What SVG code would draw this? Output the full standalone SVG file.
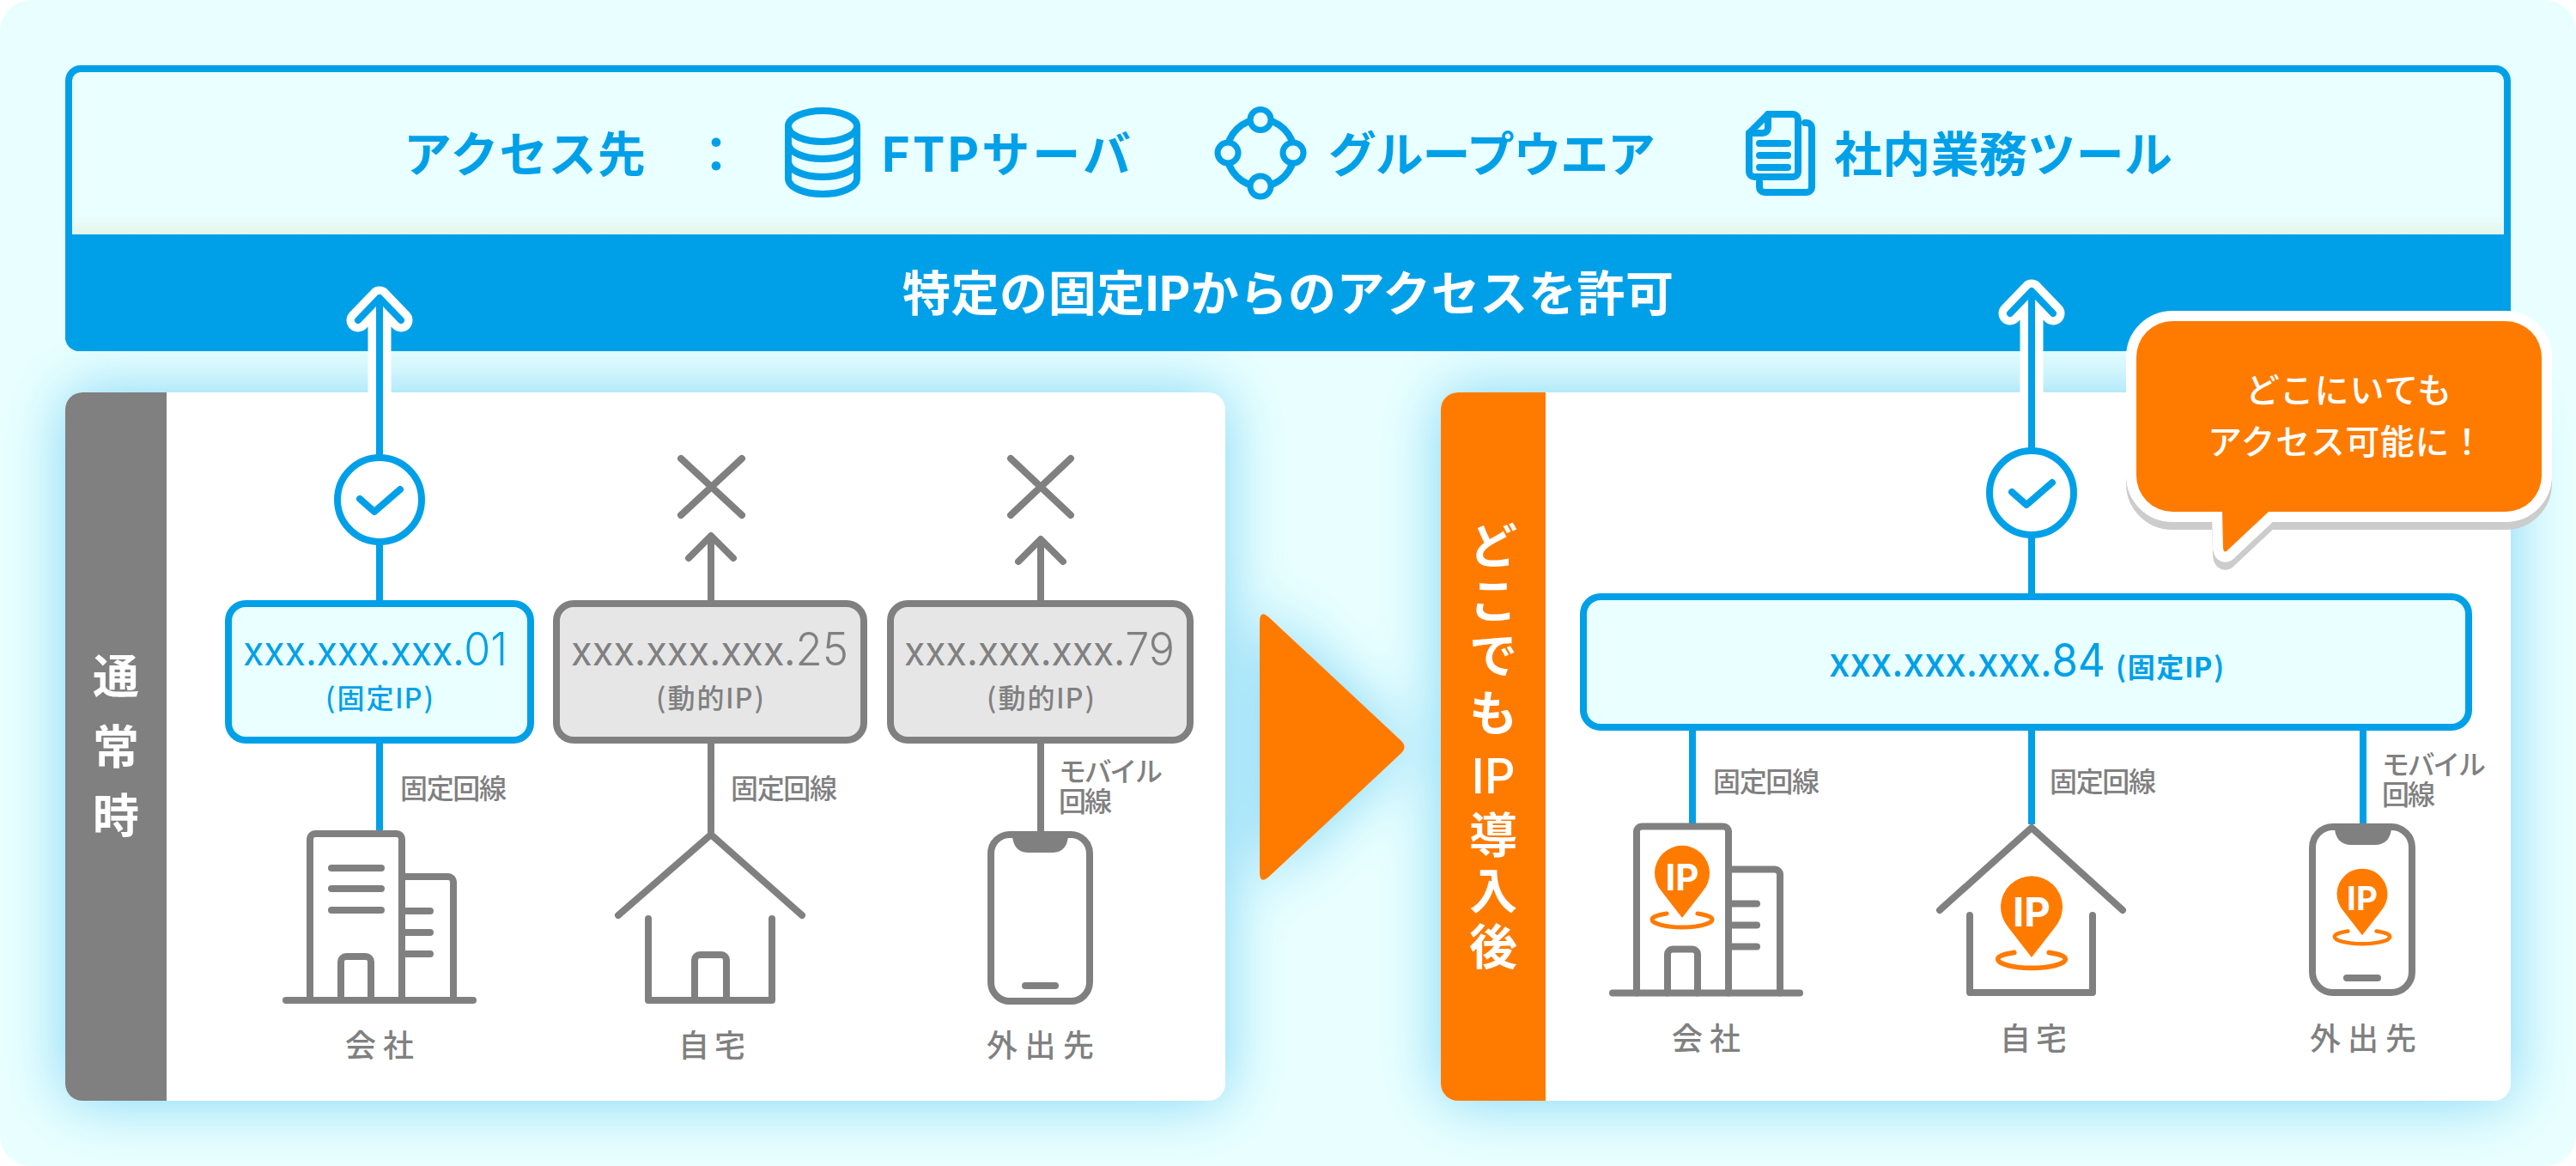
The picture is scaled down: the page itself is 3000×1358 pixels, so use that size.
<svg xmlns="http://www.w3.org/2000/svg" xmlns:xlink="http://www.w3.org/1999/xlink" width="3000" height="1358" viewBox="0 0 3000 1358">
<style>
text{font-family:"Noto Sans CJK JP","Noto Sans",sans-serif;}
.la{font-family:Inter,"Noto Sans",sans-serif;}
.b{fill:#00a0e9}.w{fill:#fff}.g{fill:#808080}
.top{font-size:56px;font-weight:700;fill:#00a0e9}
.ip{font-family:Inter,"Noto Sans",sans-serif;font-size:47px;font-weight:400}
.dg{font-size:53px;font-weight:300}
.sub{font-size:32px;font-weight:500}
.lab{font-size:32px;font-weight:500;fill:#808080}
.nm{font-size:36px;font-weight:500;fill:#808080}
.side{font-size:54px;fill:#fff;font-weight:700;text-anchor:middle}
.lg{fill:none;stroke:#808080;stroke-width:8;stroke-linecap:round;stroke-linejoin:round}
.lb{fill:none;stroke:#00a0e9;stroke-width:8;stroke-linecap:round;stroke-linejoin:round}
.cn{fill:none;stroke-width:8}
.halo{fill:none;stroke:#fff;stroke-width:27;stroke-linejoin:round;stroke-linecap:round}
</style>
<defs>
<filter id="glow" x="-20%" y="-30%" width="140%" height="160%"><feGaussianBlur stdDeviation="36"/></filter>
<linearGradient id="sh" x1="0" y1="0" x2="0" y2="1"><stop offset="0" stop-color="#e4f6ec" stop-opacity="0"/><stop offset="1" stop-color="#e2f6ea"/></linearGradient>
<g id="bld" class="lg">
<path d="M333 1165H551"/>
<path d="M361 1165V977a6 6 0 0 1 6-6H462a6 6 0 0 1 6 6V1165"/>
<path d="M468 1021H522a6 6 0 0 1 6 6V1165"/>
<path d="M397 1165V1120a6 6 0 0 1 6-6H426a6 6 0 0 1 6 6V1165"/>
<path d="M472 1061H501M472 1086H501M472 1111H501"/>
</g>
<g id="pin">
<path d="M0 48L-24 17A32 32 0 1 1 24 17Z" fill="#ff7b00"/>
<path d="M-18 43C-30 45-35 47-35 50C-35 55-18 59 0 59C18 59 35 55 35 50C35 47 30 45 18 43" fill="none" stroke="#ff7b00" stroke-width="5" stroke-linecap="round"/>
<text class="la" x="0" y="16" text-anchor="middle" font-size="42" font-weight="700" fill="#fff">IP</text>
</g>
</defs>

<rect width="3000" height="1358" fill="#fff"/>
<rect id="background" width="3000" height="1358" rx="36" fill="#e9ffff"/>

<g id="glows" filter="url(#glow)" fill="#00a0e9" opacity="0.45">
<rect x="76" y="457" width="1351" height="825" rx="20"/>
<rect x="1678" y="457" width="1246" height="825" rx="20"/>
<path d="M1467 711L1636 870L1467 1028Z"/>
</g>

<g id="target-box">
<rect x="80" y="80" width="2840" height="325" rx="14" fill="#eaffff" stroke="#00a0e9" stroke-width="8"/>
<rect x="84" y="250" width="2832" height="23" fill="url(#sh)"/>
<path d="M76 273H2924V393a16 16 0 0 1-16 16H92a16 16 0 0 1-16-16Z" class="b"/>
<text class="top" x="470" y="200" textLength="282">アクセス先</text>
<text class="top" x="806" y="200">：</text>
<text x="1500" y="362" text-anchor="middle" font-size="56" font-weight="700" fill="#fff" textLength="898">特定の固定<tspan class="la">IP</tspan>からのアクセスを許可</text>
</g>
<g id="ftp">
<path d="M918 147V208C918 218 936 226 958 226S998 218 998 208V147" class="lb"/>
<ellipse cx="958" cy="147" rx="40" ry="18" class="lb"/>
<path d="M918 167C918 177 936 185 958 185S998 177 998 167M918 188C918 198 936 206 958 206S998 198 998 188" class="lb"/>
<text class="top" x="1027" y="200" textLength="290"><tspan class="la">FTP</tspan>サーバ</text>
</g>
<g id="groupware">
<circle cx="1468" cy="178" r="39" class="lb" stroke-width="7"/>
<g fill="#eaffff" stroke="#00a0e9" stroke-width="7">
<circle cx="1468" cy="139.500" r="12"/><circle cx="1468" cy="217" r="12"/><circle cx="1430" cy="178" r="12"/><circle cx="1506" cy="178" r="12"/>
</g>
<text class="top" x="1547" y="200" textLength="381">グループウエア</text>
</g>
<g id="docs">
<path d="M2102 143H2104a6 6 0 0 1 6 6V218a6 6 0 0 1-6 6H2055a6 6 0 0 1-6-6V212" class="lb" stroke-width="7"/>
<path d="M2037 155L2059 133H2088a6 6 0 0 1 6 6V200a6 6 0 0 1-6 6H2043a6 6 0 0 1-6-6Z" class="lb" stroke-width="7"/>
<path d="M2037 155H2053a6 6 0 0 0 6-6V133" class="lb" stroke-width="7"/>
<path d="M2049 167H2082M2049 181H2082M2049 195H2082" class="lb"/>
<text class="top" x="2136" y="200" textLength="394">社内業務ツール</text>
</g>

<g id="panel-normal">
<rect x="76" y="457" width="1351" height="825" rx="20" fill="#fff"/>
<path d="M194 457V1282H96a20 20 0 0 1-20-20V477a20 20 0 0 1 20-20Z" class="g"/>
<text class="side"><tspan x="135" y="808">通</tspan><tspan x="135" y="890">常</tspan><tspan x="135" y="970">時</tspan></text>
</g>
<g id="panel-after">
<rect x="1678" y="457" width="1246" height="825" rx="20" fill="#fff"/>
<path d="M1800 457V1282H1698a20 20 0 0 1-20-20V477a20 20 0 0 1 20-20Z" fill="#ff7b00"/>
<text class="side" style="font-size:56px"><tspan x="1739" y="656">ど</tspan><tspan x="1739" y="720">こ</tspan><tspan x="1739" y="784">で</tspan><tspan x="1739" y="851">も</tspan><tspan class="la" x="1739" y="924" style="font-weight:500">IP</tspan><tspan x="1739" y="993">導</tspan><tspan x="1739" y="1058">入</tspan><tspan x="1739" y="1123">後</tspan></text>
</g>
<path id="next-arrow" d="M1480 721L1631 862Q1640 870 1631 878L1480 1019Q1467 1032 1467 1016V724Q1467 708 1480 721Z" fill="#ff7b00"/>

<g id="connectors">
<path class="halo" d="M442 457V360M417 373L442 347L467 373"/>
<path class="halo" d="M2366 457V352M2341 365L2366 339L2391 365"/>
<path class="cn" stroke="#00a0e9" d="M442 347V700M442 866V968"/>
<path class="lb" d="M417 373L442 347L467 373"/>
<path class="cn" stroke="#00a0e9" d="M2366 339V692M1971 851V960M2366 851V960M2752 851V960"/>
<path class="lb" d="M2341 365L2366 339L2391 365"/>
<path class="lg" d="M828 700V626M802 650L828 624L854 650M828 866V968"/>
<path class="lg" d="M1212 700V630M1186 654L1212 628L1238 654M1212 866V968"/>
<path class="lg" d="M793 534L864 600M864 534L793 600"/>
<path class="lg" d="M1177 534L1247 600M1247 534L1177 600"/>
</g>

<g id="check-left"><circle cx="442" cy="582" r="49" fill="#fff" stroke="#00a0e9" stroke-width="8"/><path class="lb" d="M419 581L436 596L466 570"/></g>
<g id="check-right"><circle cx="2366" cy="574" r="49" fill="#fff" stroke="#00a0e9" stroke-width="8"/><path class="lb" d="M2343 573L2360 588L2390 562"/></g>

<g id="ip-01">
<rect x="266" y="703" width="352" height="159" rx="20" fill="#eaffff" stroke="#00a0e9" stroke-width="8"/>
<text class="ip b" x="283" y="775" textLength="308" lengthAdjust="spacingAndGlyphs">xxx.xxx.xxx.<tspan class="dg">01</tspan></text>
<text class="sub b" x="379" y="825" textLength="126">(固定<tspan class="la">IP</tspan>)</text>
</g>
<g id="ip-25">
<rect x="648" y="703" width="358" height="159" rx="20" fill="#e6e6e6" stroke="#808080" stroke-width="8"/>
<text class="ip g" x="665" y="775" textLength="323" lengthAdjust="spacingAndGlyphs">xxx.xxx.xxx.<tspan class="dg">25</tspan></text>
<text class="sub g" x="764" y="825" textLength="126">(動的<tspan class="la">IP</tspan>)</text>
</g>
<g id="ip-79">
<rect x="1037" y="703" width="349" height="159" rx="20" fill="#e6e6e6" stroke="#808080" stroke-width="8"/>
<text class="ip g" x="1053" y="775" textLength="315" lengthAdjust="spacingAndGlyphs">xxx.xxx.xxx.<tspan class="dg">79</tspan></text>
<text class="sub g" x="1149" y="825" textLength="126">(動的<tspan class="la">IP</tspan>)</text>
</g>
<g id="ip-84">
<rect x="1844" y="695" width="1031" height="152" rx="20" fill="#eaffff" stroke="#00a0e9" stroke-width="8"/>
<text class="ip b" x="2130" y="788" textLength="322" lengthAdjust="spacingAndGlyphs" style="font-weight:500">xxx.xxx.xxx.<tspan class="dg" style="font-weight:400">84</tspan></text>
<text class="sub b" x="2464" y="789" textLength="126" style="font-weight:700">(固定<tspan class="la">IP</tspan>)</text>
</g>

<g id="office-left">
<path class="lg" d="M386 1011H444M386 1035H444M386 1060H444"/>
<use xlink:href="#bld" href="#bld"/>
<text class="lab" x="466" y="930" textLength="124">固定回線</text>
<text class="nm" x="402" y="1231" textLength="80">会社</text>
</g>
<g id="home-left">
<path class="lg" d="M720 1066L828 972L934 1066M755 1070V1165H899V1070M809 1165V1118a6 6 0 0 1 6-6H840a6 6 0 0 1 6 6V1165"/>
<text class="lab" x="851" y="930" textLength="124">固定回線</text>
<text class="nm" x="790" y="1231" textLength="78">自宅</text>
</g>
<g id="phone-left">
<rect x="1154" y="972" width="115" height="194" rx="22" fill="none" stroke="#808080" stroke-width="8"/>
<path d="M1179 972H1244C1244 984 1238 993 1226 993H1197C1185 993 1179 984 1179 972Z" class="g"/>
<path class="lg" d="M1194 1148H1229"/>
<text class="lab" x="1233" y="910" textLength="121">モバイル</text>
<text class="lab" x="1233" y="945" textLength="62">回線</text>
<text class="nm" x="1149" y="1231" textLength="125">外出先</text>
</g>

<g id="office-right">
<use xlink:href="#bld" href="#bld" transform="translate(1545 -8.500)"/>
<use xlink:href="#pin" href="#pin" transform="translate(1959 1021)"/>
<text class="lab" x="1995" y="922" textLength="124">固定回線</text>
<text class="nm" x="1947" y="1223" textLength="80">会社</text>
</g>
<g id="home-right">
<path class="lg" d="M2259 1060L2366 964L2472 1060" style="stroke-linejoin:round"/>
<path class="lg" d="M2294 1066V1156H2437V1066"/>
<use xlink:href="#pin" href="#pin" transform="translate(2366 1061) scale(1.125)"/>
<text class="lab" x="2387" y="922" textLength="124">固定回線</text>
<text class="nm" x="2329" y="1223" textLength="78">自宅</text>
</g>
<g id="phone-right">
<rect x="2693" y="963" width="116" height="193" rx="24" fill="none" stroke="#808080" stroke-width="8"/>
<path d="M2719 963H2785C2785 976 2778 984 2766 984H2738C2726 984 2719 976 2719 963Z" class="g"/>
<path class="lg" d="M2733 1139H2769"/>
<use xlink:href="#pin" href="#pin" transform="translate(2751 1045) scale(0.92)"/>
<text class="lab" x="2774" y="902" textLength="121">モバイル</text>
<text class="lab" x="2774" y="937" textLength="62">回線</text>
<text class="nm" x="2690" y="1223" textLength="124">外出先</text>
</g>

<g id="callout">
<path d="M2530 374H2918a42 42 0 0 1 42 42V554a42 42 0 0 1-42 42H2642L2595 640Q2590 646 2589 638L2588 596H2530a42 42 0 0 1-42-42V416a42 42 0 0 1 42-42Z" fill="#ccc" stroke="#ccc" stroke-width="24" stroke-linejoin="round" transform="translate(0 9)"/>
<path d="M2530 374H2918a42 42 0 0 1 42 42V554a42 42 0 0 1-42 42H2642L2595 640Q2590 646 2589 638L2588 596H2530a42 42 0 0 1-42-42V416a42 42 0 0 1 42-42Z" fill="#ff7b00" stroke="#fff" stroke-width="24" stroke-linejoin="round"/>
<path d="M2530 374H2918a42 42 0 0 1 42 42V554a42 42 0 0 1-42 42H2642L2595 640Q2590 646 2589 638L2588 596H2530a42 42 0 0 1-42-42V416a42 42 0 0 1 42-42Z" fill="#ff7b00"/>
<text x="2615" y="469" font-size="40" font-weight="500" fill="#fff" textLength="240">どこにいても</text>
<text x="2571" y="529" font-size="40" font-weight="500" fill="#fff" textLength="322">アクセス可能に！</text>
</g>
</svg>
